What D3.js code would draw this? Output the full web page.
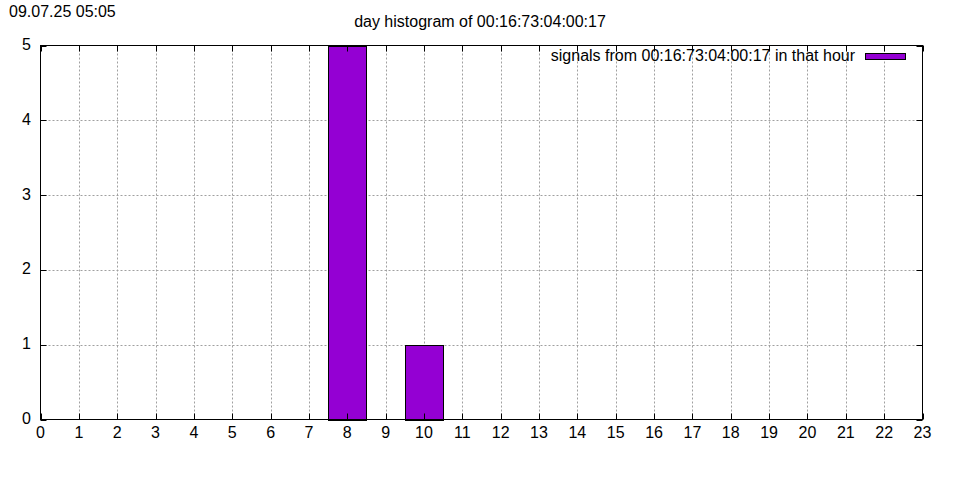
<!DOCTYPE html>
<html><head><meta charset="utf-8">
<script src="https://cdn.jsdelivr.net/npm/d3@7"></script>
<style>body{margin:0;background:#fff}svg{display:block}text{font-family:"Liberation Sans",Arial,sans-serif;}</style>
</head><body>
<svg id="c" width="960" height="480"></svg>
<script>
const hours = [8, 10];
const counts = [5, 1];
const xTicks = d3.range(0, 24);
const yTicks = [0, 1, 2, 3, 4, 5];
const titleText = "day histogram of 00:16:73:04:00:17";
const stampText = "09.07.25 05:05";
const legendText = "signals from 00:16:73:04:00:17 in that hour";

const svg = d3.select("#c");
const L = 40.5, R = 922.5, T = 45.5, B = 419.5;
const x = d3.scaleLinear().domain([0, 23]).range([L, R]);
const y = d3.scaleLinear().domain([0, 5]).range([B, T]);
const color = "#9400d3";

svg.append("rect").attr("width", 960).attr("height", 480).attr("fill", "#fff");

// grid
const g = svg.append("g");
g.selectAll(".vg").data(xTicks.filter(d => d > 0 && d < 23)).enter().append("line")
  .attr("x1", d => Math.round(x(d)) + 0.5).attr("x2", d => Math.round(x(d)) + 0.5)
  .attr("y1", T).attr("y2", B)
  .attr("stroke", "#a0a0a0").attr("stroke-width", 1).attr("stroke-dasharray", "2,2");
g.selectAll(".hg").data(yTicks.filter(d => d > 0 && d < 5)).enter().append("line")
  .attr("y1", d => Math.round(y(d)) + 0.5).attr("y2", d => Math.round(y(d)) + 0.5)
  .attr("x1", L).attr("x2", R)
  .attr("stroke", "#a0a0a0").attr("stroke-width", 1).attr("stroke-dasharray", "2,2");

// bars
svg.selectAll(".bar").data(hours.map((h, i) => ({h, c: counts[i]}))).enter().append("rect")
  .attr("x", d => Math.round(x(d.h - 0.5)) + 0.5)
  .attr("width", d => Math.round(x(d.h + 0.5)) - Math.round(x(d.h - 0.5)))
  .attr("y", d => Math.round(y(d.c)) + 0.5)
  .attr("height", d => Math.round(y(0)) - Math.round(y(d.c)))
  .attr("fill", color).attr("stroke", "#000").attr("stroke-width", 1);

// ticks (inward, mirrored)
const tk = svg.append("g").attr("stroke", "#000").attr("stroke-width", 1);
xTicks.forEach(d => {
  const px = Math.round(x(d)) + 0.5;
  tk.append("line").attr("x1", px).attr("x2", px).attr("y1", B).attr("y2", B - 6);
  tk.append("line").attr("x1", px).attr("x2", px).attr("y1", T).attr("y2", T + 6);
});
yTicks.forEach(d => {
  const py = Math.round(y(d)) + 0.5;
  tk.append("line").attr("y1", py).attr("y2", py).attr("x1", L).attr("x2", L + 6);
  tk.append("line").attr("y1", py).attr("y2", py).attr("x1", R).attr("x2", R - 6);
});

// border
svg.append("rect").attr("x", L).attr("y", T).attr("width", R - L).attr("height", B - T)
  .attr("fill", "none").attr("stroke", "#000").attr("stroke-width", 1);

// tick labels
svg.selectAll(".xl").data(xTicks).enter().append("text")
  .attr("x", d => x(d)).attr("y", 438).attr("text-anchor", "middle")
  .attr("font-size", 16).text(d => d);
svg.selectAll(".yl").data(yTicks).enter().append("text")
  .attr("x", 31).attr("y", d => y(d) + 4.5).attr("text-anchor", "end")
  .attr("font-size", 16).text(d => d);

// title & stamp
svg.append("text").attr("x", 480).attr("y", 27).attr("text-anchor", "middle")
  .attr("font-size", 16).text(titleText);
svg.append("text").attr("x", 9).attr("y", 17).attr("font-size", 16).text(stampText);

// legend
svg.append("text").attr("x", 855).attr("y", 61).attr("text-anchor", "end")
  .attr("font-size", 16).text(legendText);
svg.append("rect").attr("x", 865.5).attr("y", 53.5).attr("width", 40).attr("height", 6)
  .attr("fill", color).attr("stroke", "#000").attr("stroke-width", 1);
</script>
</body></html>
